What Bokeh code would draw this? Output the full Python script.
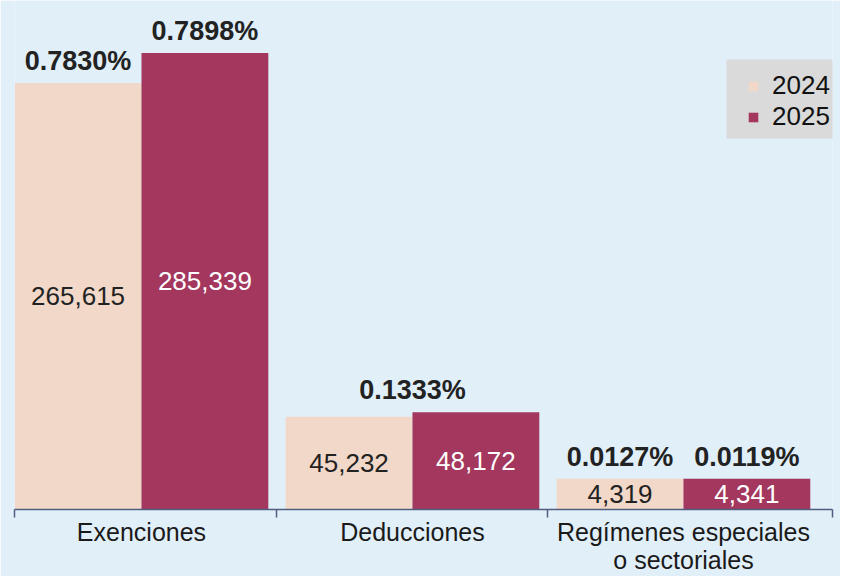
from bokeh.plotting import figure
from bokeh.models import ColumnDataSource, FixedTicker, Range1d, BoxAnnotation
from bokeh.transform import dodge
from bokeh.embed import file_html
from bokeh.resources import INLINE
from bokeh.core.properties import value

# ---- data ----
categories = ["Exenciones", "Deducciones", "Regímenes especiales\no sectoriales"]
years = ["2024", "2025"]
values_2024 = [265615, 45232, 4319]
values_2025 = [285339, 48172, 4341]
pct_2024 = ["0.7830%", "", "0.0127%"]
pct_2025 = ["0.7898%", "0.1333%", "0.0119%"]

# ---- style ----
COLOR_2024 = "#f2d8c8"
COLOR_2025 = "#a3375e"
BG = "#e1eff9"
AXIS = "#4f5e80"
TEXT = "#222222"
FONT = "Liberation Sans"

BASE = -16000
Y_TOP = 320000
X_START, X_END = -0.4686, 2.55
DODGE = 0.234
BAR_W = 0.468

xs = list(range(len(categories)))
fmt = lambda v: f"{v:,}"

src = ColumnDataSource(dict(
    x=xs,
    v24=values_2024,
    v25=values_2025,
    mid24=[(v + BASE) / 2 for v in values_2024],
    mid25=[(v + BASE) / 2 for v in values_2025],
    t24=[fmt(v) for v in values_2024],
    t25=[fmt(v) for v in values_2025],
))

p = figure(width=840, height=576,
           x_range=Range1d(X_START, X_END), y_range=Range1d(BASE, Y_TOP),
           output_backend="svg", toolbar_location=None,
           min_border_left=14, min_border_right=8, min_border_top=0, min_border_bottom=40,
           background_fill_color=BG, border_fill_color=BG, outline_line_color=None)

p.vbar(x=dodge("x", -DODGE, range=p.x_range), top="v24", bottom=BASE, width=BAR_W,
       source=src, fill_color=COLOR_2024, line_color=None, legend_label=years[0])
p.vbar(x=dodge("x", DODGE, range=p.x_range), top="v25", bottom=BASE, width=BAR_W,
       source=src, fill_color=COLOR_2025, line_color=None, legend_label=years[1])

# value labels inside bars
p.text(x=dodge("x", -DODGE, range=p.x_range), y="mid24", text="t24", source=src,
       text_font=value(FONT), text_font_size="26px", text_color=TEXT,
       text_align="center", text_baseline="middle")
p.text(x=dodge("x", DODGE, range=p.x_range), y="mid25", text="t25", source=src,
       text_font=value(FONT), text_font_size="26px", text_color="white",
       text_align="center", text_baseline="middle")

# percentage labels above bars
px, py, pt = [], [], []
for i in xs:
    if pct_2024[i]:
        px.append(i - DODGE); py.append(values_2024[i]); pt.append(pct_2024[i])
        px.append(i + DODGE)
    else:
        px.append(i)
    py.append(values_2025[i]); pt.append(pct_2025[i])
psrc = ColumnDataSource(dict(x=px, y=py, t=pt))
p.text(x="x", y="y", text="t", source=psrc, y_offset=-7,
       text_font=value(FONT), text_font_size="27px", text_font_style="bold",
       text_color=TEXT, text_align="center", text_baseline="bottom")

# axes
p.yaxis.visible = False
p.grid.visible = False
xa = p.xaxis[0]
xa.ticker = FixedTicker(ticks=xs, minor_ticks=[X_START] + [i + 0.5 for i in xs[:-1]] + [X_END])
xa.major_label_overrides = {i: c for i, c in enumerate(categories)}
xa.major_tick_line_color = None
xa.major_tick_out = 8
xa.major_tick_in = 0
xa.minor_tick_line_color = AXIS
xa.minor_tick_line_width = 1.5
xa.minor_tick_out = 8
xa.minor_tick_in = 0
xa.axis_line_color = AXIS
xa.axis_line_width = 1.5
xa.major_label_standoff = 0
xa.major_label_text_font = FONT
xa.major_label_text_font_size = "25px"
xa.major_label_text_color = "#1a1a1a"
xa.major_label_text_line_height = 1.0

# legend
p.add_layout(BoxAnnotation(left=712, right=840, top=450, bottom=371,
                           left_units="screen", right_units="screen",
                           top_units="screen", bottom_units="screen",
                           fill_color="#dadada", fill_alpha=1, line_color=None, level="underlay"))
lg = p.legend[0]
lg.location = (733, 377)
lg.label_text_font = FONT
lg.label_text_font_size = "26px"
lg.label_text_color = "#111111"
lg.glyph_width = 12
lg.glyph_height = 12
lg.label_standoff = 13
lg.padding = 0
lg.spacing = 0
lg.margin = 0
lg.background_fill_alpha = 0
lg.border_line_color = None

open("out.html", "w").write(file_html(p, INLINE))
